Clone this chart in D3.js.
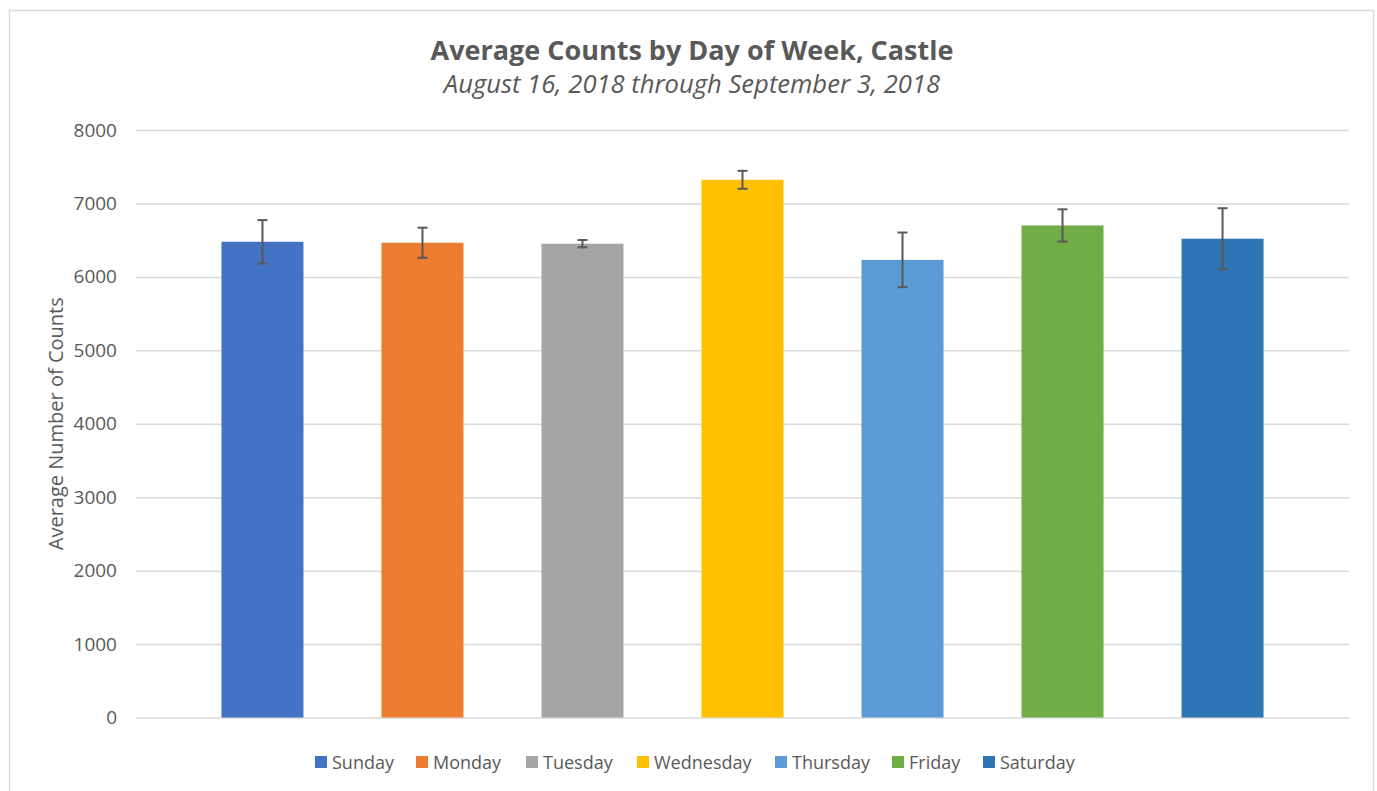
<!DOCTYPE html>
<html>
<head>
<meta charset="utf-8">
<script src="https://cdn.jsdelivr.net/npm/d3@7"></script>
<style>
  html, body { margin: 0; padding: 0; background: #fff; }
  svg { display: block; }
  text { font-family: "Open Sans", "Noto Sans", sans-serif; }
</style>
</head>
<body>
<svg id="chart" width="1377" height="791"></svg>
<script>
// Average counts per weekday with error bars (standard deviation)
const days = ["Sunday", "Monday", "Tuesday", "Wednesday", "Thursday", "Friday", "Saturday"];
const averages = [6478, 6465, 6452, 7322, 6232, 6700, 6520];
const errors = [295, 205, 50, 122, 372, 220, 415];
const colors = ["#4472C4", "#ED7D31", "#A5A5A5", "#FFC000", "#5B9BD5", "#70AD47", "#2E75B6"];
const yTicks = [0, 1000, 2000, 3000, 4000, 5000, 6000, 7000, 8000];

const titleText = "Average Counts by Day of Week, Castle";
const subtitleText = "August 16, 2018 through September 3, 2018";
const yTitle = "Average Number of Counts";

const svg = d3.select("#chart");
const plot = { left: 136, right: 1349, top: 130, bottom: 717.5 };

// chart frame
svg.append("rect")
  .attr("x", 9.5).attr("y", 10.5)
  .attr("width", 1364).attr("height", 800)
  .attr("fill", "#fff").attr("stroke", "#D9D9D9").attr("stroke-width", 1.5);

// titles
svg.append("text")
  .attr("x", 692).attr("y", 60)
  .attr("text-anchor", "middle")
  .attr("font-size", 27).attr("font-weight", 700)
  .attr("fill", "#595959")
  .text(titleText);

svg.append("text")
  .attr("x", 692).attr("y", 93)
  .attr("text-anchor", "middle")
  .attr("font-size", 25.6).attr("font-style", "italic")
  .attr("fill", "#595959")
  .text(subtitleText);

// scales
const y = d3.scaleLinear().domain([0, 8000]).range([plot.bottom, plot.top]);
const x = d3.scaleBand()
  .domain(days)
  .range([plot.left, plot.right])
  .paddingInner(0.4875)
  .paddingOuter(0.534);

// gridlines + y tick labels via axis
const yAxis = d3.axisLeft(y)
  .tickValues(yTicks)
  .tickSize(-(plot.right - plot.left))
  .tickPadding(19)
  .tickFormat(d3.format("d"));

const gy = svg.append("g")
  .attr("transform", `translate(${plot.left},0)`)
  .call(yAxis);
gy.select(".domain").remove();
gy.selectAll(".tick line")
  .attr("stroke", "#D9D9D9").attr("stroke-width", 1.5);
gy.selectAll(".tick text")
  .attr("fill", "#595959")
  .attr("font-size", 19)
  .attr("font-family", "\"Open Sans\", sans-serif");

// y axis title
svg.append("text")
  .attr("transform", `translate(63,${(plot.top + plot.bottom) / 2}) rotate(-90)`)
  .attr("text-anchor", "middle")
  .attr("font-size", 20)
  .attr("fill", "#595959")
  .text(yTitle);

// bars
svg.append("g").selectAll("rect")
  .data(days)
  .join("rect")
  .attr("x", d => x(d))
  .attr("width", x.bandwidth())
  .attr("y", (d, i) => y(averages[i]))
  .attr("height", (d, i) => y(0) - y(averages[i]))
  .attr("fill", (d, i) => colors[i]);

// error bars
const capHalf = 5;
const eg = svg.append("g")
  .attr("stroke", "#595959")
  .attr("stroke-width", 2)
  .attr("fill", "none");
days.forEach((d, i) => {
  const cx = x(d) + x.bandwidth() / 2;
  const hi = y(averages[i] + errors[i]);
  const lo = y(averages[i] - errors[i]);
  eg.append("line").attr("x1", cx).attr("x2", cx).attr("y1", hi).attr("y2", lo);
  eg.append("line").attr("x1", cx - capHalf).attr("x2", cx + capHalf).attr("y1", hi).attr("y2", hi);
  eg.append("line").attr("x1", cx - capHalf).attr("x2", cx + capHalf).attr("y1", lo).attr("y2", lo);
});

// legend
const legendX = [315, 416, 526, 637, 775, 892, 983];
const legend = svg.append("g");
days.forEach((d, i) => {
  const g = legend.append("g").attr("transform", `translate(${legendX[i]},756)`);
  g.append("rect").attr("width", 12).attr("height", 12).attr("fill", colors[i]);
  g.append("text")
    .attr("x", 17).attr("y", 12.5)
    .attr("font-size", 18)
    .attr("fill", "#595959")
    .text(d);
});
</script>
</body>
</html>
